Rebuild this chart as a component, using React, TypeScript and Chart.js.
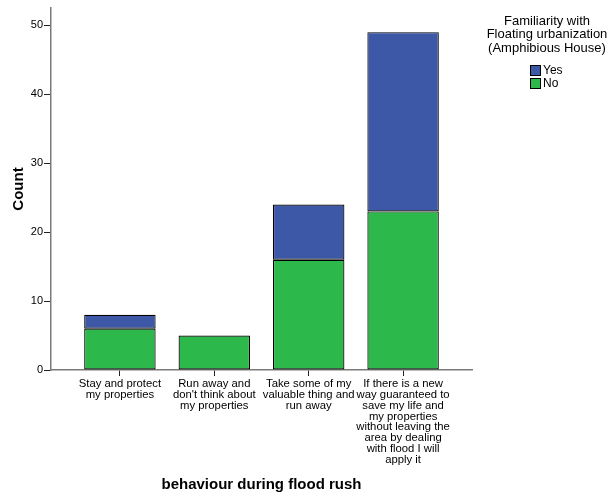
import React, { useEffect, useRef } from "react";
import { Chart, registerables } from "chart.js";

Chart.register(...registerables);

const categories: string[][] = [
  ["Stay and protect", "my properties"],
  ["Run away and", "don't think about", "my properties"],
  ["Take some of my", "valuable thing and", "run away"],
  [
    "If there is a new",
    "way guaranteed to",
    "save my life and",
    "my properties",
    "without leaving the",
    "area by dealing",
    "with flood I will",
    "apply it",
  ],
];
const noValues = [6, 5, 16, 23];
const yesValues = [2, 0, 8, 26];
const yMax = 52.5;
const yStep = 10;
const legendTitle = ["Familiarity with", "Floating urbanization", "(Amphibious House)"];
const xTitle = "behaviour during flood rush";
const yTitle = "Count";

const FONT = "'Liberation Sans', Arial, sans-serif";
const BLUE = "#3e58a8";
const GREEN = "#2db84b";

const legendPlugin = {
  id: "spssLegend",
  afterDraw(chart: any) {
    const ctx = chart.ctx as CanvasRenderingContext2D;
    ctx.save();
    ctx.fillStyle = "#000";
    ctx.textAlign = "center";
    ctx.textBaseline = "middle";
    ctx.font = `13px ${FONT}`;
    const tx = 547;
    legendTitle.forEach((t, i) => ctx.fillText(t, tx, 21 + i * 13.5));
    const ds = [...chart.data.datasets].reverse();
    ctx.font = `12px ${FONT}`;
    ctx.textAlign = "left";
    ds.forEach((d: any, i: number) => {
      const y = 65 + i * 13;
      ctx.fillStyle = d.backgroundColor;
      ctx.fillRect(530.5, y + 0.5, 10, 10);
      ctx.strokeStyle = "#000";
      ctx.lineWidth = 1;
      ctx.strokeRect(530.5, y + 0.5, 10, 10);
      ctx.fillStyle = "#000";
      ctx.fillText(d.label, 543, y + 6);
    });
    ctx.restore();
  },
};

export default function App() {
  const ref = useRef<HTMLCanvasElement | null>(null);
  useEffect(() => {
    if (!ref.current) return;
    Chart.defaults.font.family = FONT;
    const chart = new Chart(ref.current, {
      type: "bar",
      data: {
        datasets: [
          {
            label: "No",
            data: noValues.map((v, i) => ({ x: i, y: v })),
            backgroundColor: GREEN,
            borderColor: "#000",
            borderWidth: 1.2,
            borderSkipped: false,
            categoryPercentage: 1,
            barPercentage: 0.757,
          },
          {
            label: "Yes",
            data: yesValues.map((v, i) => ({ x: i, y: v })),
            backgroundColor: BLUE,
            borderColor: "#000",
            borderWidth: 1.2,
            borderSkipped: false,
            categoryPercentage: 1,
            barPercentage: 0.757,
          },
        ] as any,
      },
      options: {
        animation: false,
        responsive: false,
        devicePixelRatio: 1,
        layout: { padding: { left: 0, top: 8, right: 139, bottom: 0 } },
        plugins: {
          legend: { display: false },
          tooltip: { enabled: false },
        },
        scales: {
          x: {
            type: "linear",
            stacked: true,
            min: -0.73,
            max: 3.73,
            offset: false,
            afterFit: (s: any) => {
              s.height = 127;
            },
            grid: {
              offset: false,
              drawOnChartArea: false,
              drawTicks: true,
              tickLength: 6,
              color: "#222",
            },
            border: { display: true, color: "#7a7a7a", width: 1.5 },
            ticks: {
              stepSize: 1,
              includeBounds: false,
              autoSkip: false,
              maxRotation: 0,
              minRotation: 0,
              padding: 3,
              color: "#000",
              font: { size: 11.3, family: FONT, lineHeight: 0.95 },
              callback: (v: any) => {
                const n = Number(v);
                return Number.isInteger(n) && n >= 0 && n < categories.length ? categories[n] : "";
              },
            },
            title: {
              display: true,
              text: xTitle,
              color: "#000",
              font: { size: 15, weight: "bold", family: FONT },
              padding: { top: 0, bottom: 3 },
            },
          },
          y: {
            stacked: true,
            min: 0,
            max: yMax,
            afterFit: (s: any) => {
              s.width = 51;
            },
            grid: {
              drawOnChartArea: false,
              drawTicks: true,
              tickLength: 7,
              color: "#222",
            },
            border: { display: true, color: "#7a7a7a", width: 1.5 },
            ticks: {
              stepSize: yStep,
              includeBounds: false,
              padding: 1,
              color: "#000",
              font: { size: 11, family: FONT },
            },
            title: {
              display: true,
              text: yTitle,
              color: "#000",
              font: { size: 15, weight: "bold", family: FONT },
              padding: { top: 10, bottom: 0 },
            },
          },
        },
      },
      plugins: [legendPlugin],
    } as any);
    return () => chart.destroy();
  }, []);
  return (
    <div style={{ position: "fixed", left: 0, top: 0, width: 611, height: 497, background: "#fff" }}>
      <canvas ref={ref} width={611} height={497} />
    </div>
  );
}
